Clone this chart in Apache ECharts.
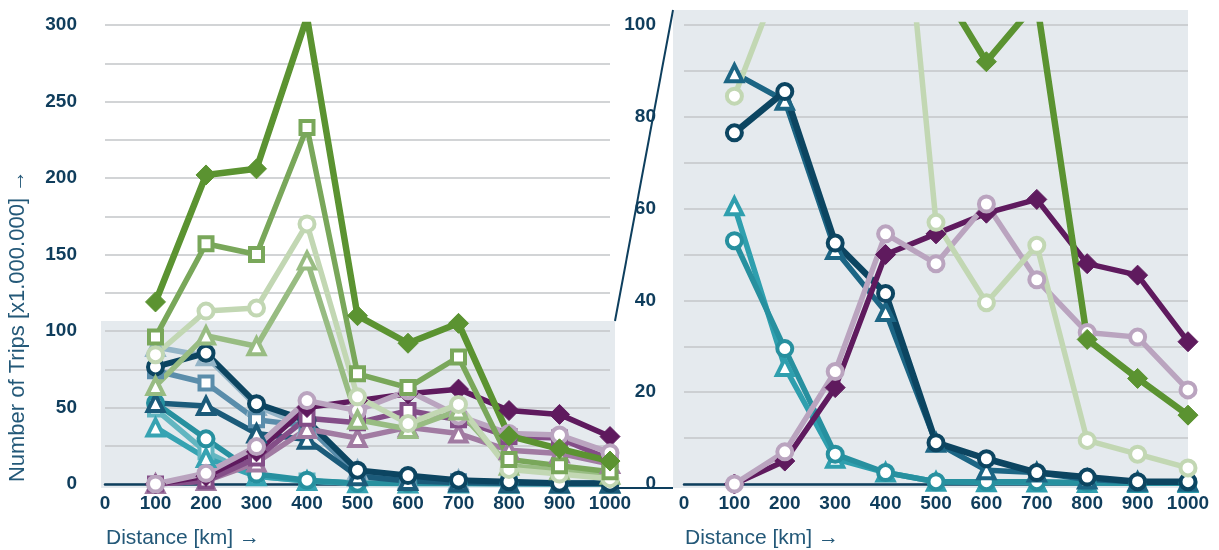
<!DOCTYPE html>
<html>
<head>
<meta charset="utf-8">
<title>Number of Trips by Distance</title>
<script src="https://cdn.jsdelivr.net/npm/echarts@6/dist/echarts.min.js"></script>
<style>
  html, body { margin: 0; padding: 0; background: #ffffff; }
  #chart { width: 1219px; height: 550px; }
</style>
</head>
<body>
<div id="chart"></div>
<script>
// Distance classes (km)
const distances = [100, 200, 300, 400, 500, 600, 700, 800, 900, 1000];

// Trips per distance class [x1.000.000]
const greenDiamond  = [119, 202, 206, 305, 110, 92, 105, 31.5, 23, 15];
const greenSquare   = [96, 157, 150, 233, 72, 63, 83, 16, 12, 8];
const greenTriangle = [64, 97, 90, 146, 42, 36, 48, 12, 9, 6];
const greenCircle   = [84.5, 113, 115, 170, 57, 39.5, 52, 9.5, 6.5, 3.5];

const navyCircle    = [76.5, 85.5, 52.5, 41.5, 9, 5.5, 2.5, 1.5, 0.5, 0.5];
const blueTriangle  = [89.5, 83.5, 51, 37.5, 9, 3, 2.5, 1, 0.5, 0.5];
const navyTriangle  = [53, 51, 33, 29, 5, 2, 1, 0.5, 0.3, 0.3];
const steelSquare   = [74, 66, 42, 38, 6, 2.5, 1.5, 1, 0.5, 0.5];

const tealCircle    = [53, 29.5, 6.5, 2.5, 0.5, 0.5, 0.5, 0.3, 0.2, 0.2];
const tealTriangleA = [37, 17, 5, 2, 0.5, 0.3, 0.3, 0.2, 0.2, 0.2];
const tealTriangleB = [60.5, 25.5, 5.5, 2.5, 0.5, 0.4, 0.3, 0.2, 0.2, 0.2];
const tealSquare    = [49, 21, 5, 2, 0.5, 0.3, 0.3, 0.2, 0.2, 0.2];

const purpleDiamond = [0, 5, 21, 50, 54.5, 59, 62, 48, 45.5, 31];
const purpleSquare  = [0, 2, 17, 43, 40, 48, 42, 31, 30, 16];
const mauveTriangle = [0, 2, 14, 36, 30, 37, 33, 22, 20, 13];
const mauveCircle   = [0, 7, 24.5, 54.5, 48, 61, 44.5, 33, 32, 20.5];

// Axis ticks
const leftTicks = { max: 300, step: 25, labelStep: 50 };
const rightTicks = { max: 100, step: 10, labelStep: 20 };

const TEXT = '#0f3d5c';
const TITLE = '#235878';
const GRIDLINE = '#c3c6c9';
const BOX = '#e5eaee';
const FONT = '"Liberation Sans", Arial, sans-serif';

function pairs(values) {
  return distances.map((d, i) => [d, values[i]]);
}

function line(name, values, color, symbol, gridIndex, width) {
  const filled = symbol === 'diamond';
  const size = { circle: 15, rect: 13, triangle: 16, diamond: 20 }[symbol];
  return {
    name: name,
    type: 'line',
    xAxisIndex: gridIndex,
    yAxisIndex: gridIndex,
    data: pairs(values),
    symbol: symbol,
    symbolSize: size,
    showAllSymbol: true,
    clip: true,
    lineStyle: { color: color, width: width || 5.5 },
    itemStyle: {
      color: filled ? color : '#ffffff',
      borderColor: color,
      borderWidth: filled ? 1 : 4
    },
    emphasis: { disabled: true }
  };
}

function yAxis(gridIndex, t) {
  return {
    type: 'value', gridIndex: gridIndex, min: 0, max: t.max, interval: t.step,
    axisLine: { show: false }, axisTick: { show: false },
    splitLine: { show: true, lineStyle: { color: GRIDLINE, width: 1.5 } },
    axisLabel: {
      margin: 28, color: TEXT, fontSize: 19, fontWeight: 'bold', fontFamily: FONT,
      formatter: v => (v % t.labelStep === 0 ? String(v) : '')
    }
  };
}

function xAxis(gridIndex) {
  return {
    type: 'value', gridIndex: gridIndex, min: 0, max: 1000, interval: 100,
    axisLine: { show: true, onZero: false, lineStyle: { color: '#0e3f5e', width: 2.5 } },
    axisTick: { show: false },
    splitLine: { show: false },
    axisLabel: {
      margin: 10, color: TEXT, fontSize: 19, fontWeight: 'bold', fontFamily: FONT,
      formatter: v => String(v)
    }
  };
}

const chart = echarts.init(document.getElementById('chart'), null, { renderer: 'canvas' });

const series = [
  // overview panel
  line('Teal square', tealSquare, '#62b6c1', 'rect', 0),
  line('Teal triangle', tealTriangleA, '#36a3b2', 'triangle', 0),
  line('Teal circle', tealCircle, '#27909f', 'circle', 0),
  line('Blue triangle', blueTriangle, '#93b4c7', 'triangle', 0),
  line('Steel square', steelSquare, '#5a8dab', 'rect', 0),
  line('Navy triangle', navyTriangle, '#1b5b7a', 'triangle', 0),
  line('Navy circle', navyCircle, '#0c4561', 'circle', 0, 6),
  line('Mauve triangle', mauveTriangle, '#a17ba2', 'triangle', 0),
  line('Purple square', purpleSquare, '#844e88', 'rect', 0),
  line('Purple diamond', purpleDiamond, '#5f1a5e', 'diamond', 0),
  line('Mauve circle', mauveCircle, '#baa4bf', 'circle', 0),
  line('Green triangle', greenTriangle, '#98bc82', 'triangle', 0),
  line('Green circle', greenCircle, '#c2d7b3', 'circle', 0),
  line('Green square', greenSquare, '#79a75a', 'rect', 0),
  line('Green diamond', greenDiamond, '#5b9331', 'diamond', 0, 6.5),

  // detail panel
  line('Teal triangle', tealTriangleB, '#2f9fae', 'triangle', 1),
  line('Teal circle', tealCircle, '#27909f', 'circle', 1),
  line('Blue triangle', blueTriangle, '#1c6584', 'triangle', 1),
  line('Navy circle', navyCircle, '#0c4561', 'circle', 1, 6.5),
  line('Purple diamond', purpleDiamond, '#5f1a5e', 'diamond', 1),
  line('Mauve circle', mauveCircle, '#baa4bf', 'circle', 1),
  line('Green circle', greenCircle, '#c2d7b3', 'circle', 1),
  line('Green diamond', greenDiamond, '#5b9331', 'diamond', 1, 6.5)
];

chart.setOption({
  animation: false,
  backgroundColor: '#ffffff',
  grid: [
    { left: 105, top: 25, width: 505, height: 459 },
    { left: 684, top: 25, width: 504, height: 459 }
  ],
  xAxis: [xAxis(0), xAxis(1)],
  yAxis: [yAxis(0, leftTicks), yAxis(1, rightTicks)],
  series: series
});

// Zoom frame on the overview, detail background and the connectors between them
const p = (g, v) => chart.convertToPixel({ gridIndex: g }, v);
const boxTL = p(0, [0, 106.5]);
const boxBR = p(0, [1000, 0]);
const box = { x1: boxTL[0] - 4, y1: boxTL[1], x2: boxBR[0] + 5, y2: boxBR[1] + 4 };
const detTL = p(1, [0, 100]);
const detBR = p(1, [1000, 0]);
const det = { x1: detTL[0] - 11, y1: detTL[1] - 15, x2: detBR[0], y2: detBR[1] + 4 };

const titleStyle = (text, size) => ({
  text: text, font: size + 'px ' + FONT, fill: TITLE,
  align: 'left', verticalAlign: 'middle',
  textAlign: 'left', textVerticalAlign: 'middle'
});

chart.setOption({
  graphic: [
    { type: 'rect', z: -10, silent: true,
      shape: { x: box.x1, y: box.y1, width: box.x2 - box.x1, height: box.y2 - box.y1 },
      style: { fill: BOX } },
    { type: 'rect', z: -10, silent: true,
      shape: { x: det.x1, y: det.y1, width: det.x2 - det.x1, height: det.y2 - det.y1 },
      style: { fill: BOX } },
    { type: 'line', z: 5, silent: true,
      shape: { x1: box.x2, y1: box.y1, x2: det.x1, y2: det.y1 },
      style: { stroke: '#0e3f5e', lineWidth: 2 } },
    { type: 'line', z: 5, silent: true,
      shape: { x1: box.x2, y1: box.y2, x2: det.x1, y2: det.y2 },
      style: { stroke: '#0e3f5e', lineWidth: 2 } },
    { type: 'text', z: 5, silent: true, x: 106, y: 538,
      style: titleStyle('Distance [km] \u2192', 21) },
    { type: 'text', z: 5, silent: true, x: 685, y: 538,
      style: titleStyle('Distance [km] \u2192', 21) },
    { type: 'text', z: 5, silent: true, x: 18, y: 326, rotation: Math.PI / 2,
      style: Object.assign(titleStyle('Number of Trips [x1.000.000] \u2192', 22),
        { align: 'center', textAlign: 'center' }) }
  ]
});
</script>
</body>
</html>
